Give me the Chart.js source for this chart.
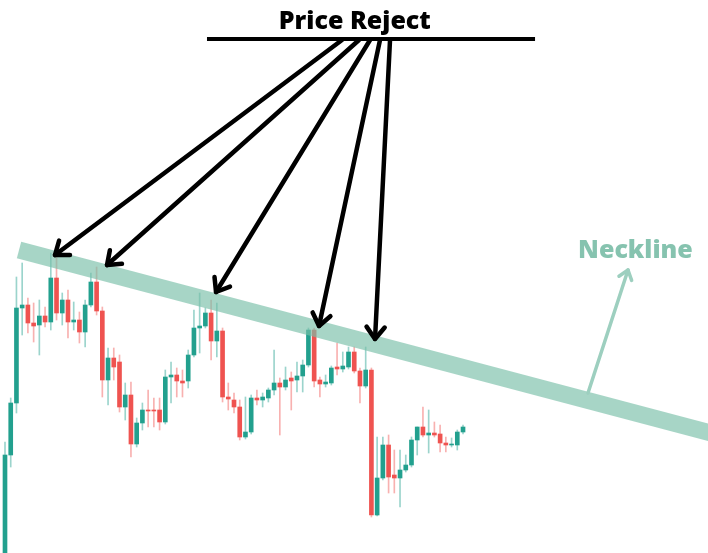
<!DOCTYPE html>
<html>
<head>
<meta charset="utf-8">
<script src="https://cdn.jsdelivr.net/npm/chart.js@4"></script>
<style>
    html, body { margin: 0; padding: 0; background: #ffffff; }
    #wrap { width: 708px; height: 553px; position: relative; }
</style>
</head>
<body>
<div id="wrap"><canvas id="chart"></canvas></div>
<script>
// candle data, one entry per session (arbitrary price units)
const openPrices = [-7, 98, 150, 245, 248, 230, 228, 237, 231, 275, 240, 253, 231, 233, 221, 248, 271, 242, 173, 195,
    191, 146, 158, 109, 130, 143, 143, 143, 131, 176, 178, 172, 172, 198, 225, 227, 240, 212, 222, 156,
    153, 146, 116, 121, 155, 153, 155, 163, 170, 166, 175, 173, 177, 188, 223, 173, 169, 170, 186, 184,
    186, 201, 182, 167, 183, 38, 75, 108, 78, 75, 83, 88, 113, 126, 118, 120, 119, 110, 108, 108, 121];
const closePrices = [98, 150, 245, 248, 230, 227, 237, 231, 275, 240, 253, 231, 233, 221, 248, 271, 242, 173, 195, 186,
    146, 158, 109, 130, 143, 142, 142, 131, 176, 178, 172, 170, 198, 225, 227, 240, 212, 222, 156, 154,
    146, 116, 121, 155, 153, 156, 163, 170, 166, 173, 172, 177, 188, 223, 172, 169, 171, 185, 184, 187,
    201, 182, 167, 183, 38, 75, 108, 76, 75, 83, 88, 113, 126, 118, 120, 118, 110, 108, 109, 121, 126];
const highPrices = [111, 155, 276, 290, 255, 250, 253, 246, 300, 296, 260, 263, 251, 241, 253, 280, 286, 246, 205, 205,
    198, 170, 171, 135, 150, 163, 155, 155, 183, 191, 185, 183, 203, 243, 260, 245, 253, 250, 225, 170,
    160, 153, 156, 158, 163, 160, 165, 203, 175, 186, 181, 191, 193, 225, 225, 176, 178, 187, 210, 201,
    206, 206, 185, 206, 185, 116, 116, 118, 103, 103, 98, 116, 126, 146, 143, 131, 128, 116, 115, 123, 128];
const lowPrices = [-7, 86, 140, 218, 220, 211, 198, 226, 223, 233, 228, 215, 223, 210, 206, 246, 238, 156, 148, 173,
    141, 133, 96, 106, 123, 126, 126, 123, 129, 150, 156, 156, 165, 196, 200, 225, 193, 196, 151, 143,
    140, 113, 114, 119, 148, 146, 151, 158, 118, 163, 143, 161, 161, 186, 166, 156, 166, 168, 178, 181,
    184, 180, 150, 165, 36, 37, 73, 60, 60, 46, 81, 86, 98, 116, 100, 116, 101, 101, 106, 103, 119];

// annotation anchors, in the same units (x = session index, y = price)
const necklinePoints = [{ x: 2.45, y: 303 }, { x: 126.6, y: 115 }];
const rejectTips = [[8.73, 298], [17.82, 288], [36.86, 261], [54.85, 227], [64.63, 214]];
const rejectStarts = [[58.86, 513], [61.83, 513], [63.76, 513], [65.5, 513], [67.25, 513]];
const titleLine = [[35.28, 514], [92.58, 514]];
const necklineArrow = [[101.83, 160], [108.82, 283]];
const titleText = 'Price Reject';
const titleAnchor = [61.1, 524];
const necklineText = 'Neckline';
const necklineTextAnchor = [100.1, 295];

const green = '#22a08e';
const red = '#ef5350';
const greenWick = 'rgba(34, 160, 142, 0.45)';
const redWick = 'rgba(239, 83, 80, 0.45)';

const idx = openPrices.map((_, i) => i);
const isUp = idx.map(i => closePrices[i] >= openPrices[i]);

const bodies = idx.map(i => ({ x: i, y: [openPrices[i], closePrices[i]] }));
const wicks = idx.map(i => ({ x: i, y: [lowPrices[i], highPrices[i]] }));

function drawArrowHead(ctx, x0, y0, x1, y1, len) {
    const ang = Math.atan2(y1 - y0, x1 - x0);
    ctx.beginPath();
    ctx.moveTo(x1 - len * Math.cos(ang - 0.65), y1 - len * Math.sin(ang - 0.65));
    ctx.lineTo(x1, y1);
    ctx.lineTo(x1 - len * Math.cos(ang + 0.65), y1 - len * Math.sin(ang + 0.65));
    ctx.stroke();
}

const annotations = {
    id: 'annotations',
    afterDatasetsDraw(chart) {
        const ctx = chart.ctx;
        const xs = chart.scales.x;
        const ys = chart.scales.y;
        const px = p => [xs.getPixelForValue(p[0]), ys.getPixelForValue(p[1])];
        ctx.save();
        ctx.lineJoin = 'round';

        // title with underline
        ctx.strokeStyle = '#000000';
        ctx.lineWidth = 4;
        const a = px(titleLine[0]);
        const b = px(titleLine[1]);
        ctx.beginPath();
        ctx.lineCap = 'butt';
        ctx.moveTo(a[0], a[1]);
        ctx.lineTo(b[0], b[1]);
        ctx.stroke();
        ctx.lineCap = 'round';

        const t = px(titleAnchor);
        ctx.fillStyle = '#000000';
        ctx.font = '800 25px "Open Sans"';
        ctx.textAlign = 'center';
        ctx.textBaseline = 'alphabetic';
        ctx.fillText(titleText, t[0], t[1]);

        // arrows pointing at the rejections
        ctx.lineWidth = 4.5;
        rejectTips.forEach((tip, i) => {
            const s = px(rejectStarts[i]);
            const e = px(tip);
            ctx.beginPath();
            ctx.moveTo(s[0], s[1]);
            ctx.lineTo(e[0], e[1]);
            ctx.stroke();
            drawArrowHead(ctx, s[0], s[1], e[0], e[1], 15);
        });

        // neckline label and arrow
        ctx.strokeStyle = '#9dcfbf';
        ctx.lineWidth = 3.5;
        const n0 = px(necklineArrow[0]);
        const n1 = px(necklineArrow[1]);
        ctx.beginPath();
        ctx.moveTo(n0[0], n0[1]);
        ctx.lineTo(n1[0], n1[1]);
        ctx.stroke();
        drawArrowHead(ctx, n0[0], n0[1], n1[0], n1[1], 11);

        const nt = px(necklineTextAnchor);
        ctx.fillStyle = '#86c3af';
        ctx.font = '800 25px "Open Sans"';
        ctx.textAlign = 'left';
        ctx.fillText(necklineText, nt[0], nt[1]);
        ctx.restore();
    }
};

new Chart(document.getElementById('chart'), {
    type: 'bar',
    data: {
        datasets: [{
            type: 'line',
            label: 'Neckline',
            data: necklinePoints,
            borderColor: 'rgba(120, 190, 168, 0.65)',
            borderWidth: 17,
            borderCapStyle: 'butt',
            pointRadius: 0,
            fill: false,
            order: 0
        }, {
            label: 'Body',
            data: bodies,
            backgroundColor: idx.map(i => isUp[i] ? green : red),
            barThickness: 4,
            grouped: false,
            order: 1
        }, {
            label: 'Wick',
            data: wicks,
            backgroundColor: idx.map(i => isUp[i] ? greenWick : redWick),
            barThickness: 1,
            grouped: false,
            order: 2
        }]
    },
    options: {
        responsive: true,
        maintainAspectRatio: false,
        animation: false,
        layout: { padding: 0 },
        scales: {
            x: {
                type: 'linear',
                display: false,
                offset: false,
                bounds: 'ticks',
                min: -0.873,
                max: 122.79
            },
            y: {
                display: false,
                min: 0,
                max: 553
            }
        },
        plugins: {
            legend: { display: false },
            tooltip: { enabled: false }
        }
    },
    plugins: [annotations]
});
</script>
</body>
</html>
